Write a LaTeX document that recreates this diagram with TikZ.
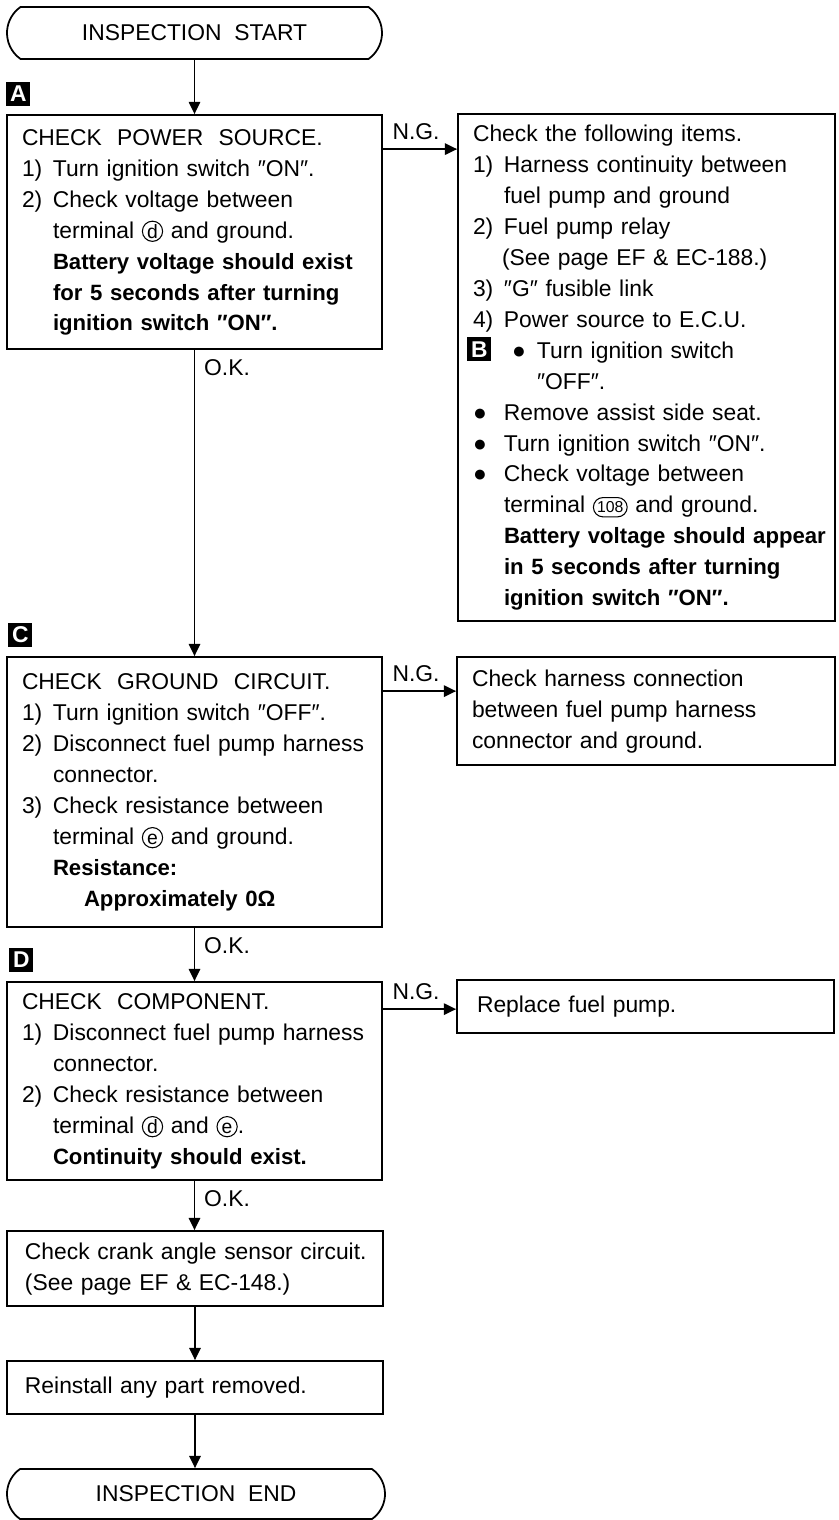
\documentclass[tikz,border=0pt]{standalone}
\usepackage{fontspec}
\setmainfont{Liberation Sans}
\usetikzlibrary{positioning,arrows.meta,shapes.misc}

\newcommand{\flowfont}{\fontsize{13}{17.6}\selectfont}
\newcommand{\boxtext}[1]{\begin{tabular}{@{}l@{}}#1\end{tabular}}
\newcommand{\nr}[1]{\makebox[0.62cm][l]{#1}}
\newcommand{\gap}{\hspace*{0.62cm}}
\newcommand{\spec}[1]{\textbf{\fontsize{12.6}{17.6}\selectfont #1}}
% circled terminal numbers
\newcommand{\term}[1]{\tikz[baseline]\node[draw, circle, anchor=base, inner sep=0.5pt, minimum size=11.5pt, line width=0.6pt, text width={}, font=\fontsize{11}{11}\selectfont]{\vphantom{d}#1};}
\newcommand{\termwide}[1]{\tikz[baseline]\node[draw, rounded rectangle, anchor=base, inner xsep=1pt, inner ysep=1.5pt, minimum height=11pt, minimum width=0pt, line width=0.6pt, text width={}, font=\fontsize{9}{9}\selectfont]{\vphantom{d}#1};}

\begin{document}
\begin{tikzpicture}[
    terminal/.style={draw, line width=1pt, rounded rectangle, rounded rectangle arc length=110, minimum width=7.5cm, minimum height=1.04cm, inner sep=0pt, font=\flowfont},
    check/.style={draw, line width=1pt, rectangle, align=left, inner xsep=0.3cm, inner ysep=0pt, font=\flowfont},
    tag/.style={fill=black, text=white, minimum size=0.48cm, inner sep=0pt, font=\fontsize{13}{13}\selectfont\bfseries},
    flow/.style={-{Triangle[length=7pt,width=6.5pt]}, line width=1pt},
    reply/.style={inner sep=5pt, font=\flowfont}
  ]

  \useasboundingbox (0,0) rectangle (16.78,-30.4);

  % main column
  \node[terminal] (start) at (3.89,-0.66) {INSPECTION~~START};

  \node[check, text width=6.9cm, minimum height=4.68cm] (power) at (3.89,-4.64) {\boxtext{
    CHECK~~POWER~~SOURCE.\\
    \nr{1)}Turn ignition switch ″ON″.\\
    \nr{2)}Check voltage between\\
    \gap terminal \term{d} and ground.\\
    \gap\spec{Battery voltage should exist}\\
    \gap\spec{for 5 seconds after turning}\\
    \gap\spec{ignition switch ″ON″.}}};

  \node[check, text width=6.9cm, minimum height=5.4cm] (ground) at (3.89,-15.84) {\boxtext{
    CHECK~~GROUND~~CIRCUIT.\\
    \nr{1)}Turn ignition switch ″OFF″.\\
    \nr{2)}Disconnect fuel pump harness\\
    \gap connector.\\
    \nr{3)}Check resistance between\\
    \gap terminal \term{e} and ground.\\
    \gap\spec{Resistance:}\\
    \hspace*{1.24cm}\spec{Approximately 0Ω}}};

  \node[check, text width=6.9cm, minimum height=3.96cm] (component) at (3.89,-21.62) {\boxtext{
    CHECK~~COMPONENT.\\
    \nr{1)}Disconnect fuel pump harness\\
    \gap connector.\\
    \nr{2)}Check resistance between\\
    \gap terminal \term{d} and \term{e}.\\
    \gap\spec{Continuity should exist.}}};

  \node[check, inner xsep=0.36cm, text width=6.8cm, minimum height=1.5cm] (crank) at (3.9,-25.37) {\boxtext{
    Check crank angle sensor circuit.\\
    (See page EF \& EC-148.)}};

  \node[check, inner xsep=0.36cm, text width=6.8cm, minimum height=1.06cm] (reinstall) at (3.9,-27.75) {\boxtext{
    Reinstall any part removed.}};

  \node[terminal, minimum width=7.56cm, minimum height=1.0cm] (finish) at (3.92,-29.88) {INSPECTION~~END};

  % N.G. branches
  \node[check, text width=6.94cm, minimum height=10.14cm] (items) at (12.93,-7.35) {\boxtext{
    Check the following items.\\
    \nr{1)}Harness continuity between\\
    \gap fuel pump and ground\\
    \nr{2)}Fuel pump relay\\
    \hspace*{0.58cm}(See page EF \& EC-188.)\\
    \nr{3)}″G″ fusible link\\
    \nr{4)}Power source to E.C.U.\\
    \hspace*{0.78cm}\makebox[0.5cm][l]{●}Turn ignition switch\\
    \hspace*{1.28cm}″OFF″.\\
    \nr{●}Remove assist side seat.\\
    \nr{●}Turn ignition switch ″ON″.\\
    \nr{●}Check voltage between\\
    \gap terminal \termwide{108} and ground.\\
    \gap\spec{Battery voltage should appear}\\
    \gap\spec{in 5 seconds after turning}\\
    \gap\spec{ignition switch ″ON″.}}};

  \node[check, text width=6.96cm, minimum height=2.16cm] (harness) at (12.92,-14.22) {\boxtext{
    Check harness connection\\
    between fuel pump harness\\
    connector and ground.}};

  \node[check, inner xsep=0.4cm, text width=6.74cm, minimum height=1.06cm] (replace) at (12.91,-20.13) {\boxtext{
    Replace fuel pump.}};

  % step tags
  \node[tag, above right=0.16cm and 0cm of power.north west] (tagA) {A};
  \node[tag, below right=4.48cm and 0.2cm of items.north west] (tagB) {B};
  \node[tag, above right=0.18cm and 0.04cm of ground.north west] (tagC) {C};
  \node[tag, above right=0.18cm and 0.06cm of component.north west] (tagD) {D};

  % connectors
  \draw[flow] (start.south) -- (power.north);
  \draw[flow] (power.south) -- node[reply, pos=0, anchor=north west] {O.K.} (ground.north);
  \draw[flow] (ground.south) -- node[reply, pos=0, anchor=north west] {O.K.} (component.north);
  \draw[flow] (component.south) -- node[reply, pos=0, anchor=north west] {O.K.} (component.south |- crank.north);
  \draw[flow] (crank.south) -- (crank.south |- reinstall.north);
  \draw[flow] (reinstall.south) -- (reinstall.south |- finish.north);

  \coordinate (ngA) at ([yshift=-0.7cm]power.north east);
  \coordinate (ngC) at ([yshift=-0.7cm]ground.north east);
  \coordinate (ngD) at ([yshift=-0.56cm]component.north east);
  \draw[flow] (ngA) -- node[reply, pos=0, anchor=south west] {N.G.} (ngA -| items.west);
  \draw[flow] (ngC) -- node[reply, pos=0, anchor=south west] {N.G.} (ngC -| harness.west);
  \draw[flow] (ngD) -- node[reply, pos=0, anchor=south west] {N.G.} (ngD -| replace.west);
\end{tikzpicture}
\end{document}
